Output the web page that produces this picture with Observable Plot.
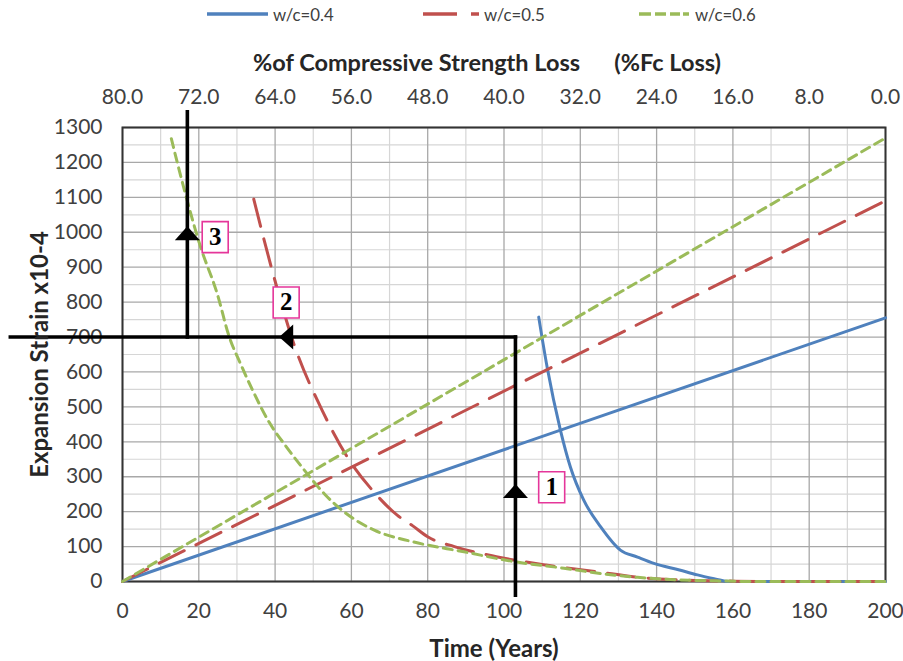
<!DOCTYPE html>
<html>
<head>
<meta charset="utf-8">
<script src="https://cdn.jsdelivr.net/npm/d3@7"></script>
<script src="https://cdn.jsdelivr.net/npm/@observablehq/plot@0.6"></script>
<style>
  body { margin: 0; background: #fff; font-family: Lato, sans-serif; }
  #legend { position: relative; width: 903px; height: 30px; }
  .item { position: absolute; top: 0; height: 28px; display: flex; align-items: center; }
  .item span { font-size: 16.8px; color: #404040; margin-left: 5px; }
  .item svg { display: block; }
</style>
</head>
<body>
<div id="legend"></div>
<div id="chart"></div>
<script>
// Series names
const seriesNames = ["w/c=0.4", "w/c=0.5", "w/c=0.6"];

// Expansion strain growth (x10-4) against time in years
const growthYears = [0, 200];
const growth04 = [0, 755];
const growth05 = [0, 1090];
const growth06 = [0, 1270];

// Expansion strain vs. % compressive strength loss, placed on the time axis
const decayYears04 = [109.1, 111.3, 114.8, 117.4, 120.9, 125.3, 130.5, 135, 139.3, 146, 150.7, 155.9, 158, 160, 200];
const decay04 = [757, 614, 433, 328, 233, 157, 90, 70, 52, 33, 19, 6, 1, 0, 0];

const decayYears05 = [34.4, 39.7, 44.9, 52.3, 58.9, 66, 72, 76, 80, 87, 98, 111, 124.4, 135, 145, 160, 170, 200];
const decay05 = [1095, 872, 681, 491, 357, 255, 190, 160, 128, 100, 71, 47, 28, 12, 5, 1, 0, 0];

const decayYears06 = [12.8, 16, 20.4, 24.8, 28, 31, 34, 38.5, 43, 48.4, 53, 58, 66, 76, 89.5, 102.6, 115.7, 125.3, 135, 145, 155, 165, 200];
const decay06 = [1268, 1130, 960, 825, 700, 622, 550, 455, 385, 309, 250, 200, 147, 114, 85, 57, 38, 23, 12, 5, 2, 0, 0];

// Axis ticks
const yearTicks = [0, 20, 40, 60, 80, 100, 120, 140, 160, 180, 200];
const lossTickLabels = ["80.0", "72.0", "64.0", "56.0", "48.0", "40.0", "32.0", "24.0", "16.0", "8.0", "0.0"];
const strainTicks = [0, 100, 200, 300, 400, 500, 600, 700, 800, 900, 1000, 1100, 1200, 1300];
const strainMinor = [50, 150, 250, 350, 450, 550, 650, 750, 850, 950, 1050, 1150, 1250];
const yearMinor = [10, 30, 50, 70, 90, 110, 130, 150, 170, 190];

// Reading guides: horizontal at 700, vertical through 103 and 17 years
const guideX1 = [-29.4, 103, 17];
const guideY1 = [700, -39, 700];
const guideX2 = [103, 103, 17];
const guideY2 = [700, 700, 1345];

// Arrow heads on the guides
const arrowUpX = [103, 17];
const arrowUpY = [259, 997];
const arrowLeftX = [42.9];
const arrowLeftY = [700];

// Numbered step markers
const stepLabels = ["1", "2", "3"];
const stepX = [112.5, 42.9, 24.3];
const stepY = [270, 799, 986];

// Styling per series
const styles = [
  {color: "#4f81bd", dash: null, width: 3, legendDash: null},
  {color: "#c0504d", dash: "28,13", width: 3, legendDash: "34,14,8,100"},
  {color: "#9bbb59", dash: "9,6", width: 3, legendDash: "12,4,11,4,10,3,6,100"}
];

const toRows = (xs, ys) => xs.map((x, i) => ({x, y: ys[i]}));
const growth = [growth04, growth05, growth06].map(v => toRows(growthYears, v));
const decay = [toRows(decayYears04, decay04), toRows(decayYears05, decay05), toRows(decayYears06, decay06)];

// Legend
const legend = document.getElementById("legend");
const legendLeft = [207, 423, 639];
const legendWidth = [61, 56, 51];
seriesNames.forEach((name, i) => {
  const item = document.createElement("div");
  item.className = "item";
  item.style.left = legendLeft[i] + "px";
  const w = legendWidth[i];
  const dash = styles[i].legendDash ? ` stroke-dasharray="${styles[i].legendDash}"` : "";
  item.innerHTML = `<svg width="${w}" height="8"><line x1="0" y1="4" x2="${w}" y2="4" stroke="${styles[i].color}" stroke-width="3.4"${dash}/></svg><span>${name}</span>`;
  legend.appendChild(item);
});

// Custom symbols: squat arrow head and tall label box
const arrowHead = {draw(ctx) { ctx.moveTo(0, -7); ctx.lineTo(12.5, 7); ctx.lineTo(-12.5, 7); ctx.closePath(); }};
const labelBox = {draw(ctx) { ctx.rect(-13, -15.5, 26, 31); }};

const seriesMarks = [];
[0, 1, 2].forEach(i => {
  const s = styles[i];
  seriesMarks.push(Plot.line(growth[i], {x: "x", y: "y", stroke: s.color, strokeWidth: s.width, strokeDasharray: s.dash}));
  seriesMarks.push(Plot.line(decay[i], {x: "x", y: "y", stroke: s.color, strokeWidth: s.width, strokeDasharray: s.dash, curve: "monotone-x"}));
});

const tickFont = 21;

const chart = Plot.plot({
  width: 903,
  height: 631,
  marginTop: 97,
  marginBottom: 80,
  marginLeft: 122,
  marginRight: 18,
  x: {domain: [0, 200]},
  y: {domain: [0, 1300]},
  style: {fontFamily: "Lato, sans-serif", fontSize: tickFont + "px", color: "#404040", background: "white", overflow: "visible"},
  marks: [
    Plot.gridX(yearMinor, {stroke: "#d6d6d6", strokeOpacity: 1, strokeWidth: 1.2}),
    Plot.gridY(strainMinor, {stroke: "#d6d6d6", strokeOpacity: 1, strokeWidth: 1.2}),
    Plot.gridX(yearTicks, {stroke: "#a8a8a8", strokeOpacity: 1, strokeWidth: 1.3}),
    Plot.gridY(strainTicks, {stroke: "#a8a8a8", strokeOpacity: 1, strokeWidth: 1.3}),
    Plot.frame({stroke: "#333", strokeWidth: 2}),
    Plot.axisY({ticks: strainTicks, tickSize: 0, tickPadding: 20, label: null, fontSize: tickFont, tickFormat: d => String(d)}),
    Plot.axisX({anchor: "bottom", ticks: yearTicks, tickSize: 0, tickPadding: 22, label: null, fontSize: tickFont, tickFormat: d => String(d)}),
    Plot.axisX({anchor: "top", ticks: yearTicks, tickSize: 0, tickPadding: 24, label: null, fontSize: tickFont,
      tickFormat: (d) => lossTickLabels[yearTicks.indexOf(d)]}),
    ...seriesMarks,
    Plot.link(guideX1, {x1: (d, i) => guideX1[i], y1: (d, i) => guideY1[i], x2: (d, i) => guideX2[i], y2: (d, i) => guideY2[i],
      stroke: "black", strokeWidth: 3.6, strokeLinecap: "square"}),
    Plot.dot(arrowUpX, {x: (d, i) => arrowUpX[i], y: (d, i) => arrowUpY[i], symbol: arrowHead, fill: "black", stroke: null}),
    Plot.dot(arrowLeftX, {x: (d, i) => arrowLeftX[i], y: (d, i) => arrowLeftY[i], symbol: arrowHead, rotate: -90, fill: "black", stroke: null}),
    Plot.dot(stepLabels, {x: (d, i) => stepX[i], y: (d, i) => stepY[i], symbol: labelBox, fill: "white", stroke: "#e5369a", strokeWidth: 1.6}),
    Plot.text(stepLabels, {x: (d, i) => stepX[i], y: (d, i) => stepY[i], text: d => d, fontFamily: "Liberation Serif, serif",
      fontWeight: "bold", fontSize: 25, fill: "black"}),
    Plot.text(["%of Compressive Strength Loss\u00a0\u00a0\u00a0\u00a0\u00a0\u00a0(%Fc Loss)"], {text: d => d, frameAnchor: "top", dy: -73, dx: -17,
      fontWeight: "bold", fontSize: 23.5, fill: "#262626"}),
    Plot.text(["Time (Years)"], {text: d => d, frameAnchor: "bottom", dy: 75, dx: -10, fontWeight: "bold", fontSize: 24, fill: "#262626"}),
    Plot.text(["Expansion Strain x10-4"], {text: d => d, frameAnchor: "left", dx: -82, rotate: -90, textAnchor: "middle",
      fontWeight: "bold", fontSize: 24, fill: "#262626"})
  ]
});
document.getElementById("chart").appendChild(chart);
</script>
</body>
</html>
